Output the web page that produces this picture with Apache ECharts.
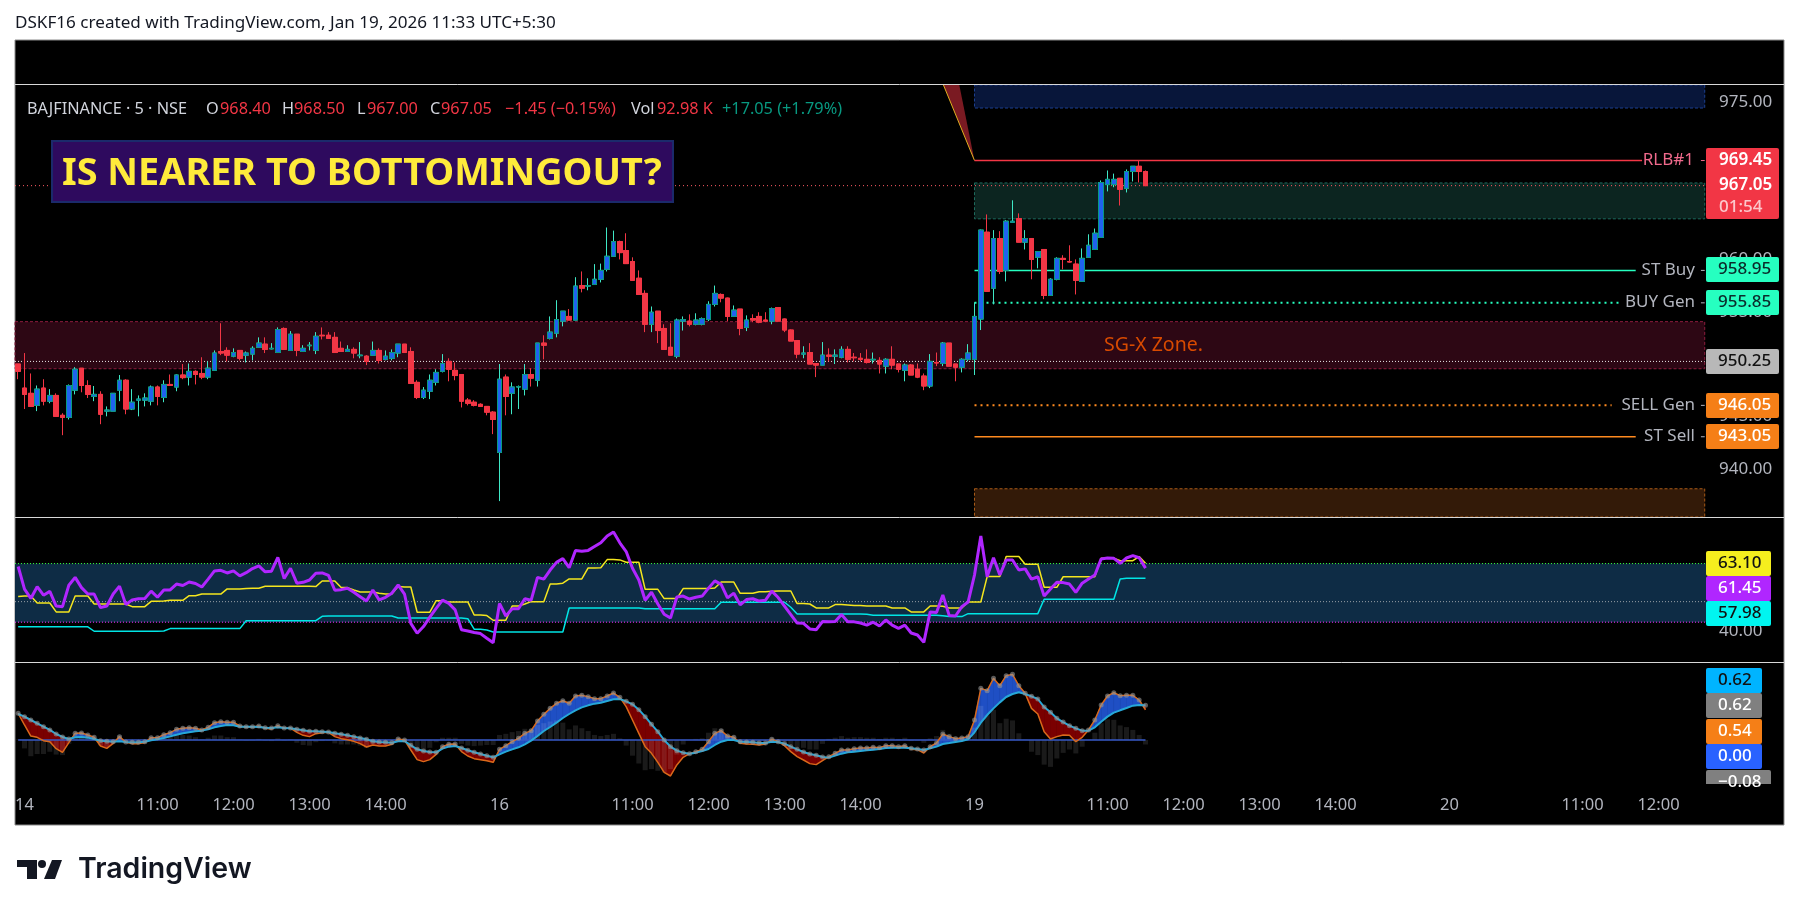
<!DOCTYPE html>
<html>
<head>
<meta charset="utf-8">
<title>BAJFINANCE 5m</title>
<script src="https://cdn.jsdelivr.net/npm/echarts@6/dist/echarts.min.js"></script>
<style>
html, body { margin: 0; padding: 0; background: #fff; }
#chart { width: 1799px; height: 914px; }
</style>
</head>
<body>
<div id="chart"></div>
<script>
// 5 min bars: one bar of the 13th, then the 14th, 16th and 19th
const opens = [
950.00,947.70,947.20,946.05,947.70,946.45,947.00,945.10,944.90,947.50,
949.60,947.95,946.90,947.10,945.50,945.50,947.50,948.45,945.70,946.55,
946.55,946.45,947.80,946.80,948.05,947.80,948.95,948.75,949.30,949.10,
948.75,949.40,951.20,951.30,950.75,951.30,950.85,950.95,951.60,951.90,
951.45,951.10,953.40,951.30,952.85,951.20,951.75,951.30,952.75,952.75,
952.55,951.50,951.20,951.40,950.80,950.75,950.85,951.30,950.45,950.55,
951.05,951.90,951.20,948.25,946.80,947.40,948.25,949.30,950.25,949.40,
949.00,946.55,946.35,946.15,945.95,945.40,941.55,948.75,947.20,947.80,
947.60,949.00,948.45,952.00,952.45,952.95,954.10,954.55,954.20,957.50,
957.45,957.60,958.10,959.05,960.30,961.70,960.85,959.80,958.20,956.75,
953.80,955.05,953.40,951.60,950.75,954.10,954.10,953.80,953.80,954.25,
955.70,956.65,956.30,954.55,955.25,953.50,954.35,954.55,954.20,954.10,
955.40,954.30,953.25,952.25,950.95,951.10,950.05,949.90,950.85,950.75,
950.65,951.40,950.65,950.55,950.45,950.40,950.35,949.80,950.45,950.00,
949.40,949.90,949.50,948.85,947.90,950.15,950.05,952.00,950.00,949.70,
950.45,950.45,954.30,962.60,957.25,962.00,958.95,963.55,963.90,961.65,
962.00,960.20,960.95,956.55,958.10,960.10,959.80,959.55,957.90,960.20,
960.95,962.10,967.15,967.15,967.75,966.80,968.40,968.90,968.40];
const closes = [
949.30,947.10,945.95,947.60,946.45,947.00,945.00,944.90,947.95,949.50,
947.95,947.10,947.10,945.20,945.60,947.20,948.45,945.70,946.35,946.65,
946.75,947.80,946.90,948.05,947.95,948.95,948.70,949.30,949.00,948.75,
949.60,951.05,951.05,950.85,951.10,950.55,951.05,951.50,952.00,951.40,
951.50,953.30,951.40,952.85,951.30,951.50,951.80,952.65,952.70,952.45,
951.10,951.20,951.40,951.05,950.85,950.25,951.30,950.35,950.75,951.10,
951.90,951.10,948.15,946.80,947.50,948.45,949.20,950.05,949.50,948.90,
946.45,946.25,946.05,945.95,945.40,944.70,948.55,946.90,947.80,947.85,
949.00,948.65,952.00,951.80,953.05,954.25,955.05,954.20,957.45,957.25,
957.50,958.10,958.95,960.30,961.70,960.65,959.60,958.00,956.65,953.80,
954.95,953.20,951.40,950.85,954.20,954.25,953.80,954.20,954.35,955.70,
956.75,956.30,954.55,955.15,953.40,954.20,954.20,954.00,954.10,955.30,
954.10,953.25,952.20,950.95,951.05,950.00,949.90,950.85,950.75,950.85,
951.40,950.45,950.60,950.45,950.15,950.45,950.00,950.45,949.90,949.50,
949.90,948.95,948.75,947.90,950.25,950.10,952.00,949.80,949.70,950.45,
951.05,954.55,962.80,956.95,962.00,958.85,963.65,963.65,961.65,962.00,
960.00,960.75,956.55,958.10,960.10,960.00,959.75,958.00,960.10,961.35,
962.50,967.35,967.65,967.65,966.70,968.40,968.90,968.40,967.05];
const lows = [
948.55,945.70,945.95,945.50,946.05,946.25,945.00,943.20,944.70,947.10,
947.30,946.75,946.45,944.25,945.00,945.50,946.45,945.20,945.60,945.00,
945.95,946.05,946.05,946.35,947.95,947.40,948.55,947.95,948.05,948.55,
948.55,949.40,950.85,950.25,950.65,950.35,950.15,950.35,951.60,951.05,
951.40,951.10,951.40,951.30,950.75,951.20,951.30,950.95,952.35,952.45,
951.10,951.20,951.20,950.55,950.55,949.90,950.85,950.05,950.35,950.35,
950.65,951.10,948.15,946.65,946.65,946.65,947.95,949.20,948.35,948.45,
945.85,946.05,945.95,945.95,945.10,943.30,936.90,945.10,945.20,945.70,
947.00,947.85,947.85,950.45,952.35,952.55,953.60,954.20,954.20,956.85,
957.05,957.60,957.80,958.85,960.30,960.00,959.60,958.00,956.65,953.05,
953.05,952.00,951.40,950.85,950.55,953.20,953.60,953.70,953.70,954.10,
955.50,955.90,954.10,954.55,952.75,953.15,954.00,953.90,954.00,953.80,
954.10,953.05,952.20,950.55,950.55,950.00,948.75,949.90,950.25,950.00,
950.55,950.15,950.25,950.25,950.05,950.05,949.10,949.10,949.50,949.20,
948.35,948.95,948.65,947.50,947.70,949.80,949.80,949.80,948.35,949.20,
950.25,948.95,953.25,956.95,955.70,958.60,957.90,963.55,961.65,960.95,
958.10,959.15,956.20,956.55,958.00,959.05,959.70,956.65,957.90,960.20,
960.95,962.10,966.50,966.90,965.15,966.40,967.45,967.35,967.00];
const highs = [
950.00,951.05,949.10,947.95,948.55,947.60,947.20,945.30,948.05,949.70,
949.60,948.45,947.90,947.40,945.95,947.20,948.95,948.55,947.60,947.00,
947.20,947.95,947.95,948.45,949.00,949.00,950.00,950.05,949.40,950.65,
950.25,951.30,953.90,951.60,951.50,951.30,951.20,951.70,952.55,952.55,
952.00,953.50,953.50,953.15,952.85,951.80,952.10,953.05,953.50,953.05,
953.05,952.15,951.80,951.60,952.10,950.85,952.15,951.50,951.30,951.40,
951.90,951.90,951.60,948.45,947.80,949.00,949.50,950.95,950.55,950.15,
949.00,946.75,946.55,946.25,945.95,945.50,950.00,949.00,948.25,947.95,
950.00,949.60,952.00,952.75,954.55,956.10,955.05,955.25,958.30,958.85,
958.20,959.55,959.60,963.05,962.75,961.80,962.50,960.20,958.95,957.05,
955.50,955.05,953.80,953.90,954.35,954.55,954.75,954.85,954.45,956.00,
957.50,956.75,956.35,955.60,955.25,954.65,954.75,954.95,954.95,955.40,
955.40,954.35,953.30,952.25,951.70,952.00,950.05,952.10,951.50,951.40,
951.70,951.70,951.05,951.05,951.40,951.10,950.65,950.55,951.70,950.00,
950.05,950.00,950.05,949.10,950.95,951.10,952.10,952.00,950.00,950.55,
951.90,955.90,962.85,964.30,962.80,962.70,963.75,965.65,964.40,962.80,
962.00,960.75,960.95,958.20,960.20,960.40,961.35,960.00,961.05,962.40,
962.95,967.55,968.50,968.20,967.75,968.60,968.90,969.45,968.50];

// purple oscillator
const rsi = [
62.0,54.3,51.1,55.1,52.2,53.5,48.5,48.3,55.6,58.3,
54.8,52.6,52.6,48.0,48.5,52.6,55.3,49.0,50.6,51.0,
51.1,53.6,51.5,54.0,54.0,56.0,55.5,56.7,56.2,55.0,
57.7,60.5,60.7,59.8,60.5,58.8,59.9,61.3,62.2,60.2,
60.4,65.1,57.9,61.4,56.3,56.6,57.4,59.7,59.8,59.0,
53.9,54.1,54.6,53.2,51.7,50.2,54.0,50.6,51.5,52.9,
55.7,52.6,42.6,39.2,41.5,44.7,47.7,50.5,49.4,47.2,
40.4,40.0,39.5,39.1,37.5,36.0,49.4,45.1,47.6,47.6,
51.0,50.5,58.3,57.7,60.8,63.4,64.7,61.6,67.5,67.2,
67.5,68.8,70.1,72.4,73.8,70.1,67.1,61.4,57.4,50.5,
53.2,49.2,45.7,44.4,51.6,51.9,50.9,51.5,51.9,54.6,
57.1,55.9,51.3,52.9,48.9,50.7,51.0,50.2,50.5,53.6,
51.4,48.5,45.6,42.7,42.6,40.7,40.4,43.2,43.1,43.2,
45.6,43.1,43.1,42.7,42.0,43.0,41.7,43.75,42.0,40.9,
42.0,39.3,38.6,36.1,46.5,46.3,52.3,45.3,45.1,48.3,
49.9,59.1,72.4,58.5,65.0,59.1,64.2,64.2,60.8,61.2,
57.7,58.5,51.9,54.3,56.6,56.5,56.0,53.2,56.3,57.7,
59.1,64.6,64.9,64.8,63.1,64.9,65.7,65.0,61.45];
// yellow stepped line
const rsiYellow = [
51.8,51.9,51.9,49.55,49.55,49.55,46.5,46.5,46.5,51.9,
51.9,51.9,49.2,49.2,49.2,49.2,49.2,49.2,48.3,48.3,
48.3,50.1,50.1,50.2,50.45,50.45,50.45,52.05,52.05,52.6,
52.6,52.6,52.6,54.35,54.35,54.35,54.45,54.55,54.55,55.25,
55.25,55.25,55.25,55.25,55.25,55.25,55.25,55.15,57.05,57.05,
57.05,54.8,54.8,54.0,53.3,53.3,53.3,52.85,52.6,52.6,
55.15,55.0,55.0,46.4,46.4,46.4,50.35,50.35,49.9,49.9,
49.9,49.9,45.45,45.45,45.25,43.65,43.65,43.65,48.5,48.5,
49.2,50.0,50.0,50.0,56.05,56.05,56.3,57.75,57.75,57.75,
61.5,61.5,61.6,64.35,64.35,64.25,63.45,63.45,63.45,54.2,
54.2,54.2,51.05,51.05,51.05,54.45,54.45,54.45,54.45,54.45,
54.65,56.7,56.7,56.7,52.85,52.85,52.85,53.4,53.4,53.55,
53.65,53.65,53.65,49.35,49.35,49.2,47.85,47.85,47.85,49.0,
49.0,48.85,48.65,48.65,48.5,48.5,48.5,48.5,47.85,47.85,
47.85,46.5,46.5,46.5,48.5,48.5,48.4,47.85,47.85,47.85,
49.9,49.9,49.9,58.55,58.55,58.55,65.4,65.4,65.4,62.75,
62.75,62.75,54.9,54.9,54.9,58.5,58.5,58.5,58.5,58.5,
58.5,64.8,64.8,64.8,64.0,64.0,64.0,65.4,63.1];
// cyan stepped line
const rsiCyan = [
41.4,41.4,41.4,41.4,41.4,41.4,41.4,41.4,41.4,41.4,
41.4,41.4,39.9,39.9,39.9,39.9,39.9,39.9,39.9,39.9,
39.9,39.9,39.9,40.0,40.8,40.8,40.8,40.8,40.8,40.8,
40.8,40.8,40.8,40.8,40.8,40.8,43.5,43.5,43.5,43.5,
43.5,43.5,43.5,43.5,43.5,43.5,43.5,43.5,45.0,45.1,
45.1,45.1,45.1,45.1,45.1,45.1,45.1,45.1,45.1,45.1,
44.4,44.4,44.4,44.4,44.4,44.4,44.4,44.4,44.4,44.4,
44.4,44.2,40.6,40.6,40.3,39.65,39.65,39.65,39.65,39.65,
39.65,39.65,39.65,39.65,39.65,39.65,39.65,47.85,47.85,47.85,
47.85,47.85,47.85,47.85,47.85,47.85,47.85,47.85,47.85,47.6,
47.6,47.6,47.6,47.6,47.6,47.6,47.6,47.6,47.6,47.6,
47.6,49.8,49.8,49.8,49.8,49.8,49.8,49.8,49.8,49.8,
49.8,49.8,48.1,45.8,45.8,45.8,45.8,45.8,45.8,45.8,
45.8,45.8,45.8,45.8,45.7,45.35,45.35,45.35,45.35,45.35,
45.35,45.35,45.35,45.35,45.35,45.35,45.2,44.9,44.9,44.9,
45.9,45.9,45.9,45.9,45.9,45.9,45.9,45.9,45.9,45.9,
45.9,45.9,50.8,50.8,50.8,50.8,50.8,50.8,50.8,50.8,
50.8,50.8,50.8,50.8,57.75,58.0,58.0,58.0,57.98];

const macdLine = [
.476,.268,.071,.048,-.012,-.030,-.155,-.220,-.048,.119,
.125,.089,.048,-.107,-.149,-.060,.060,-.042,-.065,-.065,
-.048,.042,.042,.095,.131,.190,.208,.220,.208,.179,
.226,.309,.327,.315,.315,.250,.226,.232,.250,.208,
.196,.256,.208,.214,.137,.083,.060,.113,.131,.137,
.060,.024,.006,-.024,-.065,-.125,-.089,-.107,-.107,-.077,
.018,0,-.179,-.351,-.387,-.351,-.256,-.119,-.077,-.071,
-.208,-.286,-.333,-.351,-.369,-.399,-.167,-.101,-.030,.030,
.119,.167,.339,.458,.565,.655,.702,.655,.785,.797,
.774,.738,.738,.785,.839,.762,.595,.357,.119,-.119,
-.238,-.399,-.577,-.643,-.446,-.309,-.244,-.208,-.167,-.030,
.119,.167,.071,.048,-.060,-.071,-.077,-.089,-.071,.012,
-.030,-.101,-.208,-.298,-.357,-.422,-.440,-.369,-.298,-.238,
-.179,-.179,-.155,-.143,-.143,-.131,-.137,-.101,-.101,-.119,
-.101,-.167,-.173,-.232,-.119,-.054,.107,.060,.024,.036,
.060,.357,.922,.881,1.101,.970,1.148,1.172,.970,.833,
.565,.464,.149,.018,.060,.089,.083,-.030,.048,.179,
.357,.625,.785,.845,.791,.797,.797,.714,.54];
const signalLine = [
.464,.417,.357,.298,.238,.179,.107,.054,.018,.048,
.054,.042,.018,-.012,-.024,-.030,-.024,-.036,-.042,-.042,
-.030,-.006,.012,.036,.065,.095,.119,.137,.155,.167,
.190,.226,.250,.268,.262,.238,.238,.238,.232,.220,
.214,.226,.214,.208,.190,.173,.155,.155,.149,.143,
.119,.101,.083,.060,.036,.012,-.024,-.036,-.042,-.048,
-.024,-.018,-.095,-.167,-.196,-.214,-.220,-.155,-.119,-.107,
-.143,-.184,-.220,-.250,-.280,-.309,-.256,-.208,-.167,-.131,
-.077,-.012,.071,.161,.232,.309,.393,.464,.530,.583,
.619,.649,.666,.696,.726,.732,.690,.637,.541,.417,
.280,.149,0,-.119,-.190,-.226,-.244,-.226,-.196,-.161,
-.089,-.030,0,0,-.030,-.036,-.042,-.054,-.054,-.030,
-.036,-.065,-.119,-.167,-.214,-.250,-.274,-.303,-.315,-.280,
-.244,-.220,-.208,-.196,-.184,-.173,-.161,-.143,-.137,-.137,
-.137,-.149,-.161,-.179,-.149,-.119,-.071,-.054,-.036,-.018,
.012,.137,.309,.446,.565,.672,.768,.821,.851,.821,
.779,.732,.589,.494,.387,.321,.256,.208,.167,.167,
.226,.327,.417,.488,.530,.571,.613,.625,.62];
const macdHist = [
.01,-.15,-.29,-.25,-.25,-.21,-.26,-.27,-.07,.07,
.07,.05,.03,-.10,-.13,-.03,.08,-.01,-.02,-.02,
-.02,.05,.03,.06,.07,.10,.09,.08,.05,.01,
.04,.08,.08,.05,.05,.01,-.01,-.01,.02,-.01,
-.02,.03,-.01,.01,-.05,-.09,-.10,-.04,-.02,-.01,
-.06,-.08,-.08,-.08,-.10,-.14,-.07,-.07,-.07,-.03,
.04,.02,-.08,-.18,-.19,-.14,-.04,.04,.04,.04,
-.07,-.10,-.11,-.10,-.09,-.09,.09,.11,.14,.16,
.20,.18,.27,.30,.33,.35,.31,.19,.26,.21,
.16,.09,.07,.09,.11,.03,-.10,-.28,-.42,-.54,
-.52,-.55,-.58,-.52,-.26,-.08,0,.02,.03,.13,
.21,.20,.07,.05,-.03,-.04,-.04,-.04,-.02,.04,
.01,-.04,-.09,-.13,-.14,-.17,-.17,-.07,.02,.04,
.07,.04,.05,.05,.04,.04,.02,.04,.04,.02,
.04,-.02,-.01,-.05,.03,.07,.18,.11,.06,.05,
.05,.22,.61,.44,.54,.30,.38,.35,.12,.01,
-.21,-.27,-.44,-.48,-.33,-.23,-.17,-.24,-.12,.01,
.13,.30,.37,.36,.26,.23,.18,.09,-.08];

const priceTicks = [940, 945, 955, 960, 975];
const rsiTicks = [40];
// index of a tick -> text on the time axis
const timeTickIdx = [1, 22, 34, 46, 58, 76, 97, 109, 121, 133, 151, 172, 184, 196, 208, 226, 247, 259];
const timeTickText = ['14', '11:00', '12:00', '13:00', '14:00', '16', '11:00', '12:00', '13:00', '14:00', '19', '11:00', '12:00', '13:00', '14:00', '20', '11:00', '12:00'];

// boxes on the price pane
const zoneTop = [954.05, 976.67, 967.31, 938.08];
const zoneBottom = [949.55, 974.47, 963.88, 935.38];
const zoneFrom = [-0.5, 151, 151, 151];
const zoneFill = ['#2d0714', '#08163a', '#0c2520', '#331a08'];
const zoneLine = ['#8c1c3e', '#1c3f8f', '#1d6a5c', '#a85a16'];

// named levels drawn from the 19th onward
const levelPrice = [969.45, 958.95, 955.85, 946.05, 943.05];
const levelEnd = [256.4, 255.4, 252.7, 251.6, 255.4];
const levelColor = ['#f23645', '#26ffc0', '#26ffc0', '#ff8a1f', '#ff8a1f'];
const levelDash = ['solid', 'solid', [2, 4], [2, 4], 'solid'];

const wedgeIdx = [146.1, 148.6, 151];
const wedgePrice = [976.67, 976.67, 969.45];

const TOTAL_BARS = 267;
const LAST = TOTAL_BARS - 0.5;
const ZONE_END = LAST - 0.2;
const FONT = '"Noto Sans", sans-serif';

// session slots, the last bar of the 13th sits at index 0
const categories = [];
for (let i = 0; i < TOTAL_BARS; i++) categories.push('b' + i);

const candles = opens.map((o, i) => [o, closes[i], lows[i], highs[i]]);
const bodies = opens.map((o, i) => [o, closes[i], Math.min(o, closes[i]), Math.max(o, closes[i])]);
const dots = macdLine.map((v, i) => Math.max(v, signalLine[i]));

function timeLabelAt(index) {
    return timeTickText[timeTickIdx.indexOf(index)] || '';
}

function text(x, y, str, fill, size, align, weight, family) {
    return {
        type: 'text', x: x, y: y, z: 100, silent: true,
        style: {
            text: str, fill: fill, textAlign: align || 'left', textVerticalAlign: 'middle',
            font: (weight || 'normal') + ' ' + size + 'px ' + (family || FONT)
        }
    };
}

function tag(x, y, w, h, str, bg, fg) {
    return [
        { type: 'rect', z: 90, silent: true, shape: { x: x, y: y, width: w, height: h, r: 2 }, style: { fill: bg } },
        text(x + 12, y + h / 2, str, fg, 17, 'left', '500')
    ];
}

const bg = [
    { type: 'rect', z: -10, silent: true, shape: { x: 15, y: 40, width: 1769, height: 785 }, style: { fill: '#000', stroke: '#8a8a8a', lineWidth: 1 } },
    { type: 'rect', z: 50, silent: true, shape: { x: 52, y: 141, width: 621, height: 61 }, style: { fill: '#2e0a5e', stroke: '#1b2a6b', lineWidth: 2 } }
];
// white pane separators
[84.5, 517.5, 662.5].forEach(function(y) {
    bg.push({ type: 'line', z: 60, silent: true, shape: { x1: 15, y1: y, x2: 1784, y2: y }, style: { stroke: '#d8d8d8', lineWidth: 1 } });
});

const legend = [
    text(27, 109, 'BAJFINANCE · 5 · NSE', '#d1d4dc', 16.3),
    text(206, 109, 'O', '#d1d4dc', 16.3), text(220, 109, '968.40', '#f23645', 16.3),
    text(282, 109, 'H', '#d1d4dc', 16.3), text(294, 109, '968.50', '#f23645', 16.3),
    text(357, 109, 'L', '#d1d4dc', 16.3), text(367, 109, '967.00', '#f23645', 16.3),
    text(430, 109, 'C', '#d1d4dc', 16.3), text(441, 109, '967.05', '#f23645', 16.3),
    text(505, 109, '−1.45 (−0.15%)', '#f23645', 16.3),
    text(631, 109, 'Vol', '#d1d4dc', 16.3), text(657, 109, '92.98 K', '#f23645', 16.3),
    text(722, 109, '+17.05 (+1.79%)', '#089981', 16.3)
];

const lineNames = [
    text(1694, 160, 'RLB#1', '#f06a8c', 17, 'right'),
    text(1695, 270, 'ST Buy', '#b2b5be', 17, 'right'),
    text(1695, 302, 'BUY Gen', '#b2b5be', 17, 'right'),
    text(1695, 405, 'SELL Gen', '#b2b5be', 17, 'right'),
    text(1695, 436, 'ST Sell', '#b2b5be', 17, 'right')
];

const tags = [].concat(
    [{ type: 'rect', z: 90, silent: true, shape: { x: 1706, y: 148, width: 73, height: 71, r: 2 }, style: { fill: '#f23645' } }],
    [text(1719, 160, '969.45', '#fff', 17, 'left', '600'), text(1719, 185.5, '967.05', '#fff', 17, 'left', '600'), text(1719, 207, '01:54', 'rgba(255,255,255,0.72)', 17, 'left', '500')],
    tag(1706, 257, 73, 25, '958.95', '#26ffc0', '#0b2b2b'),
    tag(1706, 290, 73, 25, '955.85', '#26ffc0', '#0b2b2b'),
    tag(1706, 349, 73, 25, '950.25', '#b8b8b8', '#111'),
    tag(1706, 393, 73, 25, '946.05', '#f57f17', '#fff'),
    tag(1706, 424, 73, 25, '943.05', '#f57f17', '#fff'),
    tag(1706, 551, 65, 25, '63.10', '#f5ee1e', '#111'),
    tag(1706, 576, 65, 25, '61.45', '#b026ff', '#fff'),
    tag(1706, 601, 65, 25, '57.98', '#00f5f0', '#111'),
    tag(1706, 668, 56, 25, '0.62', '#00b4ff', '#111'),
    tag(1706, 693, 56, 25, '0.62', '#808080', '#fff'),
    tag(1706, 719, 56, 25, '0.54', '#f57f17', '#fff'),
    tag(1706, 744, 56, 25, '0.00', '#2962ff', '#fff'),
    tag(1706, 770, 65, 25, '−0.08', '#808080', '#fff'),
    // the bottom tag runs off the pane
    [{ type: 'rect', z: 95, silent: true, shape: { x: 1705, y: 784, width: 78, height: 18 }, style: { fill: '#000' } }]
);

const footer = [
    text(15, 23.5, 'DSKF16 created with TradingView.com, Jan 19, 2026 11:33 UTC+5:30', '#131722', 17.1),
    text(62, 174, 'IS NEARER TO BOTTOMINGOUT?', '#ffeb3b', 37.8, 'left', 'bold'),
    text(1104, 345, 'SG-X Zone.', '#d84a00', 19.5),
    text(78, 869, 'TradingView', '#131722', 28.5, 'left', '600', 'Inter, sans-serif'),
    { type: 'polygon', z: 100, silent: true, shape: { points: [[17, 860], [37, 860], [37, 879], [27, 879], [27, 867], [17, 867]] }, style: { fill: '#131722' } },
    { type: 'circle', z: 100, silent: true, shape: { cx: 42, cy: 864, r: 4 }, style: { fill: '#131722' } },
    { type: 'polygon', z: 100, silent: true, shape: { points: [[52, 860], [62, 860], [55, 879], [44, 879]] }, style: { fill: '#131722' } }
];

const idxAxis = function(gridIndex) {
    return { type: 'value', gridIndex: gridIndex, show: false, min: -0.5, max: LAST, splitLine: { show: false } };
};
const hiddenCat = function(gridIndex) {
    return {
        type: 'category', gridIndex: gridIndex, data: categories, show: false, boundaryGap: true
    };
};
const timeAxis = {
    type: 'category', gridIndex: 2, data: categories, boundaryGap: true,
    axisLine: { show: false }, axisTick: { show: false }, splitLine: { show: false },
    axisLabel: {
        margin: 13, color: '#b2b5be', fontFamily: FONT, fontSize: 16.5,
        interval: function(index) { return timeTickIdx.indexOf(index) >= 0; },
        formatter: function(value, index) { return timeLabelAt(index); }
    }
};
const sideAxis = function(gridIndex, min, max, ticks) {
    return {
        type: 'value', gridIndex: gridIndex, position: 'right', min: min, max: max, scale: true,
        axisLine: { show: false }, axisTick: { show: false }, splitLine: { show: false },
        axisLabel: {
            show: ticks.length > 0, customValues: ticks, margin: 13, color: '#b2b5be', fontFamily: FONT, fontSize: 17,
            formatter: function(v) { return v.toFixed(2); }
        }
    };
};

function plainLine(xAxisIndex, yAxisIndex, data, color, width, dash, z) {
    return {
        type: 'line', xAxisIndex: xAxisIndex, yAxisIndex: yAxisIndex, data: data, z: z || 2,
        showSymbol: false, silent: true, animation: false,
        lineStyle: { color: color, width: width, type: dash || 'solid' }
    };
}

const series = [];

// boxes
series.push({
    type: 'custom', xAxisIndex: 3, yAxisIndex: 0, z: 1, silent: true,
    data: zoneTop.map((t, i) => [zoneFrom[i], t, ZONE_END, zoneBottom[i], i]),
    encode: { x: [0, 2], y: [1, 3] },
    renderItem: function(params, api) {
        const a = api.coord([api.value(0), api.value(1)]);
        const b = api.coord([api.value(2), api.value(3)]);
        const i = api.value(4);
        return {
            type: 'rect', shape: { x: a[0], y: a[1], width: b[0] - a[0], height: b[1] - a[1] },
            style: { fill: zoneFill[i], stroke: zoneLine[i], lineWidth: 1, lineDash: [3, 2] }
        };
    }
});
// wedge off the top of the pane
series.push({
    type: 'custom', xAxisIndex: 3, yAxisIndex: 0, z: 1, silent: true,
    data: [[wedgeIdx[0], wedgePrice[0]]],
    encode: { x: 0, y: 1 },
    renderItem: function(params, api) {
        return {
            type: 'polygon',
            shape: { points: wedgeIdx.map((x, i) => api.coord([x, wedgePrice[i]])) },
            style: { fill: '#7a1a22' }
        };
    }
});
series.push(plainLine(3, 0, [[wedgeIdx[0], wedgePrice[0]], [wedgeIdx[2], wedgePrice[2]]], '#e0b020', 1, 'solid', 1));

// price and pivot dotted lines over the full width
series.push(plainLine(3, 0, [[-0.5, closes[178]], [ZONE_END, closes[178]]], '#ff5a64', 1, [1, 3], 1));
series.push(plainLine(3, 0, [[-0.5, 950.25], [ZONE_END, 950.25]], '#e8e8e8', 1, [1, 2], 1));

levelPrice.forEach(function(p, i) {
    series.push(plainLine(3, 0, [[151, p], [levelEnd[i], p]], levelColor[i], Array.isArray(levelDash[i]) ? 2 : 1.5, levelDash[i], 1));
    series.push(plainLine(3, 0, [[265.7, p], [ZONE_END, p]], i === 0 ? '#f06a8c' : '#b2b5be', 1, 'solid', 1));
});

// candles: wicks first, then the bodies with their own border
series.push({
    type: 'candlestick', xAxisIndex: 0, yAxisIndex: 0, data: candles, barWidth: 5, z: 3, silent: true,
    itemStyle: { color: '#2962ff', color0: '#f23645', borderColor: '#3fe8c6', borderColor0: '#f23645', borderWidth: 1 }
});
series.push({
    type: 'candlestick', xAxisIndex: 0, yAxisIndex: 0, data: bodies, barWidth: 5, z: 4, silent: true,
    itemStyle: { color: '#1f62ef', color0: '#f23645', borderColor: '#089981', borderColor0: '#f23645', borderWidth: 1 }
});

// oscillator pane
series.push({
    type: 'line', xAxisIndex: 4, yAxisIndex: 1, data: [[-0.5, 63], [LAST, 63]], showSymbol: false, silent: true, z: 1,
    lineStyle: { color: '#39ff3c', width: 1, type: [1, 2] },
    markArea: { silent: true, itemStyle: { color: '#0e2c45' }, data: [[{ yAxis: 63 }, { yAxis: 43 }]] }
});
series.push(plainLine(4, 1, [[-0.5, 50], [LAST, 50]], '#9aa0a6', 1, [1, 2], 1));
series.push(plainLine(4, 1, [[-0.5, 43], [LAST, 43]], '#ff2cff', 1, [1, 2], 1));
series.push(plainLine(1, 1, rsiCyan, '#00e5e5', 1.5, 'solid', 3));
series.push(plainLine(1, 1, rsiYellow, '#f5e61e', 1.5, 'solid', 3));
series.push(plainLine(1, 1, rsi, '#b026ff', 3, 'solid', 4));

// macd pane
series.push({
    type: 'custom', xAxisIndex: 5, yAxisIndex: 2, z: 1, silent: true,
    data: macdLine.slice(0, -1).map((v, i) => [i, v]),
    encode: { x: 0, y: 1 },
    renderItem: function(params, api) {
        const i = api.value(0);
        const m0 = macdLine[i], m1 = macdLine[i + 1], s0 = signalLine[i], s1 = signalLine[i + 1];
        const d0 = m0 - s0, d1 = m1 - s1;
        const poly = function(pts, up) {
            const c = up ? '#1f4fc4' : '#7a0000';
            return { type: 'polygon', shape: { points: pts.map(p => api.coord(p)) }, style: { fill: c, stroke: c, lineWidth: 0.6 } };
        };
        if (d0 * d1 >= 0) {
            return poly([[i, m0], [i + 1, m1], [i + 1, s1], [i, s0]], d0 + d1 > 0);
        }
        // the lines cross inside this step
        const t = d0 / (d0 - d1);
        const cx = i + t, cy = m0 + (m1 - m0) * t;
        return {
            type: 'group',
            children: [
                poly([[i, m0], [cx, cy], [i, s0]], d0 > 0),
                poly([[cx, cy], [i + 1, m1], [i + 1, s1]], d1 > 0)
            ]
        };
    }
});
series.push({
    type: 'bar', xAxisIndex: 2, yAxisIndex: 2, data: macdHist, barWidth: 5, z: 2, silent: true,
    itemStyle: { color: 'rgba(255,255,255,0.1)' }
});
series.push(plainLine(2, 2, macdHist.map(() => 0), 'rgba(55,90,200,0.75)', 2, 'solid', 3));
series.push(plainLine(2, 2, macdLine, '#d9691a', 1.5, 'solid', 4));
series.push(plainLine(2, 2, signalLine, '#26a8d8', 2, 'solid', 4));
series.push({
    type: 'line', xAxisIndex: 2, yAxisIndex: 2, data: dots, z: 5, silent: true,
    symbol: 'circle', symbolSize: 5, showSymbol: true, showAllSymbol: true,
    lineStyle: { width: 0 }, itemStyle: { color: 'rgba(150,150,150,0.6)' }
});

const chart = echarts.init(document.getElementById('chart'));
chart.setOption({
    animation: false,
    backgroundColor: '#fff',
    grid: [
        { left: 15, right: 93, top: 85, height: 432 },
        { left: 15, right: 93, top: 518, height: 144 },
        { left: 15, right: 93, top: 663, height: 121 }
    ],
    xAxis: [hiddenCat(0), hiddenCat(1), timeAxis, idxAxis(0), idxAxis(1), idxAxis(2)],
    yAxis: [
        sideAxis(0, 935.38, 976.67, priceTicks),
        sideAxis(1, 29.4, 78.56, rsiTicks),
        sideAxis(2, -0.786, 1.375, [])
    ],
    graphic: { elements: [].concat(bg, legend, lineNames, tags, footer) },
    series: series
});
</script>
</body>
</html>
